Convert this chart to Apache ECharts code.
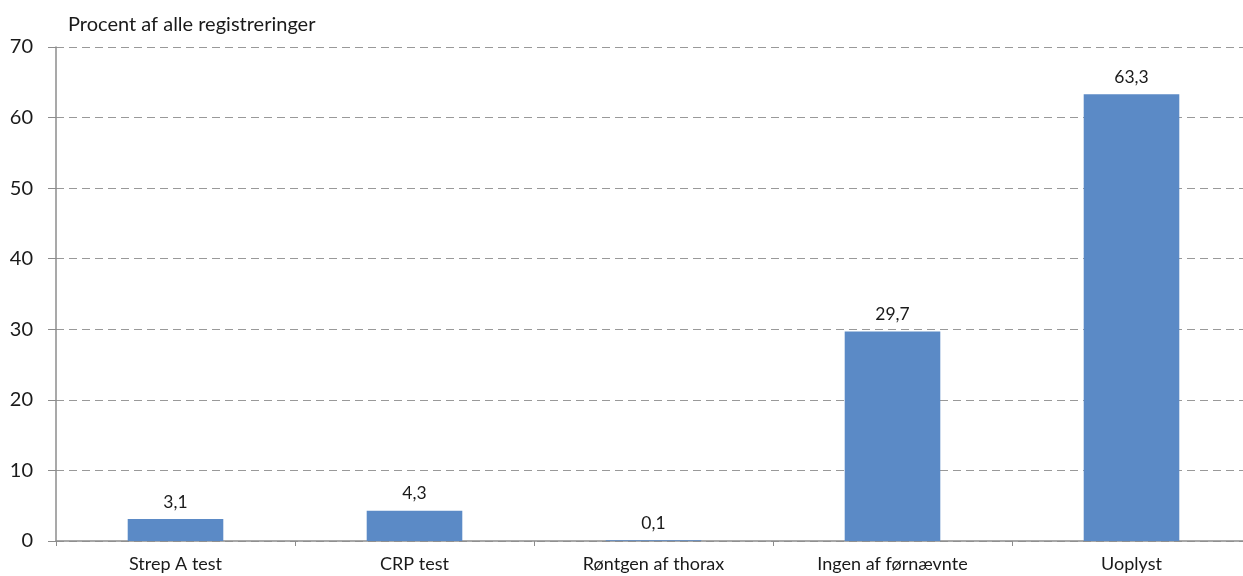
<!DOCTYPE html>
<html>
<head>
<meta charset="utf-8">
<script src="https://cdn.jsdelivr.net/npm/echarts@6/dist/echarts.min.js"></script>
<style>html,body{margin:0;padding:0;background:#fff;overflow:hidden}#c{width:1251px;height:576px}</style>
</head>
<body>
<div id="c"></div>
<script>
const categories = ['Strep A test', 'CRP test', 'Røntgen af thorax', 'Ingen af førnævnte', 'Uoplyst'];
const values = [3.1, 4.3, 0.1, 29.7, 63.3];
const yTitle = 'Procent af alle registreringer';

const FONT = 'Lato, "Liberation Sans", sans-serif';
const chart = echarts.init(document.getElementById('c'), null, {renderer: 'canvas'});
chart.setOption({
  animation: false,
  textStyle: {fontFamily: FONT},
  title: {
    text: yTitle, left: 63, top: 10,
    textStyle: {fontSize: 20, fontWeight: 'normal', color: '#1a1a1a', fontFamily: FONT}
  },
  grid: {left: 56, top: 47, right: 0, bottom: 35, containLabel: false},
  xAxis: {
    type: 'category', data: categories,
    axisLine: {lineStyle: {color: '#8c8c8c', width: 1.5}},
    axisTick: {show: true, length: 5, lineStyle: {color: '#8c8c8c'}},
    axisLabel: {fontSize: 18, color: '#1a1a1a', margin: 14, fontFamily: FONT}
  },
  yAxis: {
    type: 'value', min: 0, max: 70, interval: 10,
    axisLine: {show: true, lineStyle: {color: '#8c8c8c', width: 1.5}},
    axisTick: {show: true, length: 8, lineStyle: {color: '#8c8c8c'}},
    axisLabel: {fontSize: 20, color: '#1a1a1a', margin: 23, fontFamily: FONT},
    splitLine: {show: true, lineStyle: {color: '#999999', type: [8, 5], width: 1}}
  },
  series: [{
    type: 'bar', data: values, barWidth: '40%',
    itemStyle: {color: '#5b8ac6'},
    label: {
      show: true, position: 'top', distance: 8, fontSize: 17.5, color: '#1a1a1a',
      fontFamily: FONT,
      formatter: p => String(p.value).replace('.', ',')
    }
  }]
});
</script>
</body>
</html>
